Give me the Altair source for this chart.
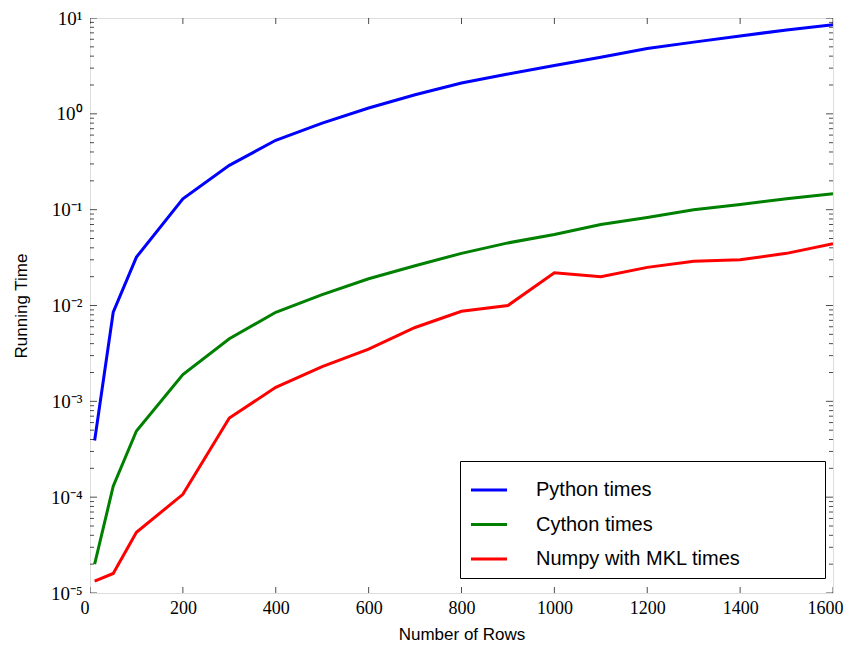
import altair as alt
import pandas as pd

rows = [10, 50, 100, 200, 300, 400, 500, 600, 700, 800, 900, 1000, 1100, 1200, 1300, 1400, 1500, 1600]
python_times = [3.9e-4, 8.5e-3, 0.032, 0.13, 0.29, 0.53, 0.8, 1.15, 1.58, 2.1, 2.6, 3.2, 3.9, 4.8, 5.6, 6.5, 7.5, 8.5]
cython_times = [2.0e-5, 1.3e-4, 4.9e-4, 1.9e-3, 4.5e-3, 8.5e-3, 0.013, 0.019, 0.026, 0.035, 0.045, 0.055, 0.07, 0.083, 0.1, 0.113, 0.13, 0.147]
numpy_times = [1.33e-5, 1.6e-5, 4.3e-5, 1.07e-4, 6.7e-4, 1.4e-3, 2.3e-3, 3.5e-3, 5.9e-3, 8.7e-3, 0.01, 0.022, 0.02, 0.025, 0.029, 0.030, 0.035, 0.044]
series_names = ["Python times", "Cython times", "Numpy with MKL times"]
series_colors = ["#0000ff", "#008000", "#ff0000"]

x_ticks = [0, 200, 400, 600, 800, 1000, 1200, 1400, 1600]
y_major = [1e-5, 1e-4, 1e-3, 1e-2, 1e-1, 1e0, 1e1]
y_minor = [m * d for d in y_major[:-1] for m in range(2, 10)]

W, H = 743, 575

records = []
for name, vals in zip(series_names, [python_times, cython_times, numpy_times]):
    for r, v in zip(rows, vals):
        records.append({"rows": r, "time": v, "series": name})
df = pd.DataFrame(records)

xscale = alt.Scale(domain=[0, 1600], nice=False, zero=False)
yscale = alt.Scale(type="log", domain=[1e-5, 10], nice=False)

label_expr = ("datum.value >= 5 ? '10¹' : datum.value >= 0.5 ? '10⁰' : datum.value >= 0.05 ? '10⁻¹' : "
              "datum.value >= 0.005 ? '10⁻²' : datum.value >= 0.0005 ? '10⁻³' : datum.value >= 0.00005 ? '10⁻⁴' : '10⁻⁵'")

pad = "\u2800" * 5

lines = alt.Chart(df).mark_line(strokeWidth=3, clip=True).encode(
    x=alt.X("rows:Q", scale=xscale,
            axis=alt.Axis(values=x_ticks, format="d", ticks=False, domain=False, grid=False,
                          labelFont="Liberation Serif", labelFontSize=18, labelColor="black",
                          labelPadding=6, labelFlush=True, labelFlushOffset=10,
                          title="Number of Rows", titleFont="Liberation Sans", titleFontSize=17,
                          titleFontWeight="normal", titleColor="black", titlePadding=9)),
    y=alt.Y("time:Q", scale=yscale,
            axis=alt.Axis(values=y_major, ticks=False, domain=False, grid=False,
                          labelExpr=label_expr,
                          labelFont="Liberation Serif", labelFontSize=19, labelColor="black",
                          labelPadding=8, labelFlush=False,
                          title="Running Time", titleFont="Liberation Sans", titleFontSize=17,
                          titleFontWeight="normal", titleColor="black", titlePadding=20)),
    color=alt.Color("series:N",
                    scale=alt.Scale(domain=series_names, range=series_colors),
                    sort=series_names,
                    legend=alt.Legend(title=None, orient="none", legendX=370, legendY=443,
                                      symbolType="stroke", symbolStrokeWidth=3, symbolSize=1300,
                                      labelFont="Liberation Sans", labelFontSize=20, labelColor="black",
                                      labelOffset=27, labelLimit=500,
                                      labelExpr="datum.label + '" + pad + "'",
                                      rowPadding=4.5, padding=9,
                                      strokeColor="black", fillColor="white")),
)

xt = pd.DataFrame({"v": x_ticks})
ymaj = pd.DataFrame({"v": y_major})
ymin = pd.DataFrame({"v": y_minor})

tick_color = "black"
x_bottom = alt.Chart(xt).mark_tick(orient="vertical", size=12, thickness=1, clip=True, color=tick_color).encode(
    x=alt.X("v:Q", scale=xscale), y=alt.value(H))
x_top = alt.Chart(xt).mark_tick(orient="vertical", size=12, thickness=1, clip=True, color=tick_color).encode(
    x=alt.X("v:Q", scale=xscale), y=alt.value(0))
y_left_major = alt.Chart(ymaj).mark_tick(orient="horizontal", size=14, thickness=1, clip=True, color=tick_color).encode(
    y=alt.Y("v:Q", scale=yscale), x=alt.value(0))
y_right_major = alt.Chart(ymaj).mark_tick(orient="horizontal", size=14, thickness=1, clip=True, color=tick_color).encode(
    y=alt.Y("v:Q", scale=yscale), x=alt.value(W))
y_left_minor = alt.Chart(ymin).mark_tick(orient="horizontal", size=8, thickness=1, clip=True, color=tick_color).encode(
    y=alt.Y("v:Q", scale=yscale), x=alt.value(0))
y_right_minor = alt.Chart(ymin).mark_tick(orient="horizontal", size=8, thickness=1, clip=True, color=tick_color).encode(
    y=alt.Y("v:Q", scale=yscale), x=alt.value(W))

chart = alt.layer(
    lines, x_bottom, x_top, y_left_major, y_right_major, y_left_minor, y_right_minor
).properties(
    width=W, height=H,
    autosize=alt.AutoSizeParams(type="none"),
    padding={"left": 82, "top": 10, "right": 12, "bottom": 52},
).configure_view(
    stroke="black", strokeWidth=1.5
).configure_legend(
    strokeWidth=3
).configure(background="white")

chart.save("out.html", embed_options={"renderer": "svg", "actions": False})
